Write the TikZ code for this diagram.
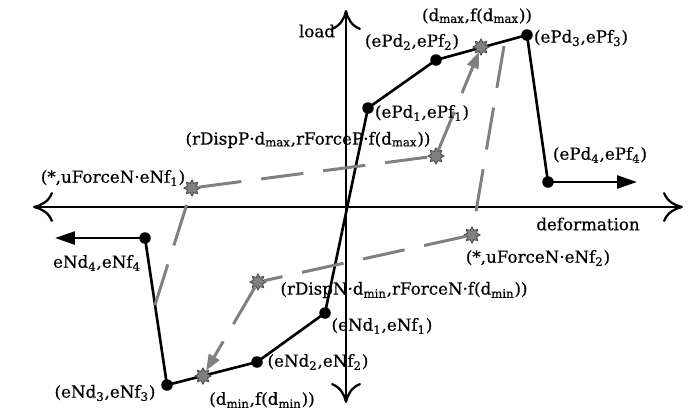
\documentclass[tikz,border=0pt]{standalone}
\usepackage{fontspec}
\setmainfont{DejaVu Serif}[FakeBold=0.5]
\usetikzlibrary{arrows.meta,shapes.geometric}

\begin{document}
\begin{tikzpicture}[x=0.02cm, y=-0.02cm,
        lbl/.style={font=\fontsize{9.5}{11}\selectfont, inner sep=0pt},
        dot/.style={circle, fill=black, inner sep=0pt, minimum size=0.23cm},
        gstar/.style={star, star points=8, star point ratio=1.6, fill=gray, draw=gray!60!black, line width=0.5pt, inner sep=0pt, minimum size=0.32cm},
        curve/.style={line width=1.5pt},
        axis/.style={line width=1.3pt, {Computer Modern Rightarrow[length=4mm,width=6mm]}-{Computer Modern Rightarrow[length=4mm,width=6mm]}},
        force/.style={line width=1.5pt, -{Triangle[length=4mm,width=2.6mm]}},
        cyc/.style={gray, line width=1.7pt, dash pattern=on 0.85cm off 0.4cm},
        cycarrow/.style={cyc, -{Triangle[length=3.2mm,width=2.4mm]}}]
            \useasboundingbox (0,0) rectangle (700,417);

            \coordinate (xL) at (33,207);
            \coordinate (xR) at (683,207);
            \coordinate (yT) at (346,10);
            \coordinate (yB) at (346,403);
            \draw[axis] (xL) -- (xR);
            \draw[axis] (yB) -- (yT);

            \node[dot] (P1) at (368,108) {};
            \node[dot] (P2) at (436,60) {};
            \node[dot] (P3) at (527,35) {};
            \node[dot] (P4) at (548,182) {};
            \node[dot] (N1) at (325,313) {};
            \node[dot] (N2) at (257,362) {};
            \node[dot] (N3) at (167,385) {};
            \node[dot] (N4) at (145,238) {};
            \coordinate (P4end) at (637,182);
            \coordinate (N4end) at (55,238);

            \draw[curve] (P4.center) -- (P3.center) -- (P2.center) -- (P1.center) -- (N1.center) -- (N2.center) -- (N3.center) -- (N4.center);
            \draw[force] (P4.center) -- (P4end);
            \draw[force] (N4.center) -- (N4end);

            \node[gstar] (Dmax) at (481,47) {};
            \node[gstar] (RP) at (436,156) {};
            \node[gstar] (UN1) at (192,188) {};
            \node[gstar] (UN2) at (472,235) {};
            \node[gstar] (RN) at (258,282) {};
            \node[gstar] (Dmin) at (203,376) {};
            \coordinate (unP) at (504,46);
            \coordinate (unN) at (155,305);

            \draw[cyc] (unP) -- (UN2);
            \draw[cyc] (UN2) -- (RN);
            \draw[cycarrow] (RN) -- (Dmin);
            \draw[cyc] (unN) -- (UN1);
            \draw[cyc] (UN1) -- (RP);
            \draw[cycarrow] (RP) -- (Dmax);

            \node[lbl] (lLoad) at (317,31) {load};
            \node[lbl] (lDef) at (588,224) {deformation};
            \node[lbl] (lDmax) at (477,16) {(d\textsubscript{max},f(d\textsubscript{max}))};
            \node[lbl] (lP1) at (422,113) {(ePd\textsubscript{1},ePf\textsubscript{1})};
            \node[lbl] (lP2) at (412,42) {(ePd\textsubscript{2},ePf\textsubscript{2})};
            \node[lbl] (lP3) at (581,38) {(ePd\textsubscript{3},ePf\textsubscript{3})};
            \node[lbl] (lP4) at (600,155) {(ePd\textsubscript{4},ePf\textsubscript{4})};
            \node[lbl] (lRP) at (308,140) {(rDispP·d\textsubscript{max},rForceP·f(d\textsubscript{max}))};
            \node[lbl] (lUN1) at (113,178) {(*,uForceN·eNf\textsubscript{1})};
            \node[lbl] (lUN2) at (538,258) {(*,uForceN·eNf\textsubscript{2})};
            \node[lbl] (lRN) at (404,290) {(rDispN·d\textsubscript{min},rForceN·f(d\textsubscript{min}))};
            \node[lbl] (lN1) at (382,326) {(eNd\textsubscript{1},eNf\textsubscript{1})};
            \node[lbl] (lN2) at (318,362) {(eNd\textsubscript{2},eNf\textsubscript{2})};
            \node[lbl] (lN3) at (105,393) {(eNd\textsubscript{3},eNf\textsubscript{3})};
            \node[lbl] (lN4) at (97,263) {eNd\textsubscript{4},eNf\textsubscript{4}};
            \node[lbl] (lDmin) at (262,400) {(d\textsubscript{min},f(d\textsubscript{min}))};
        \end{tikzpicture}
\end{document}
